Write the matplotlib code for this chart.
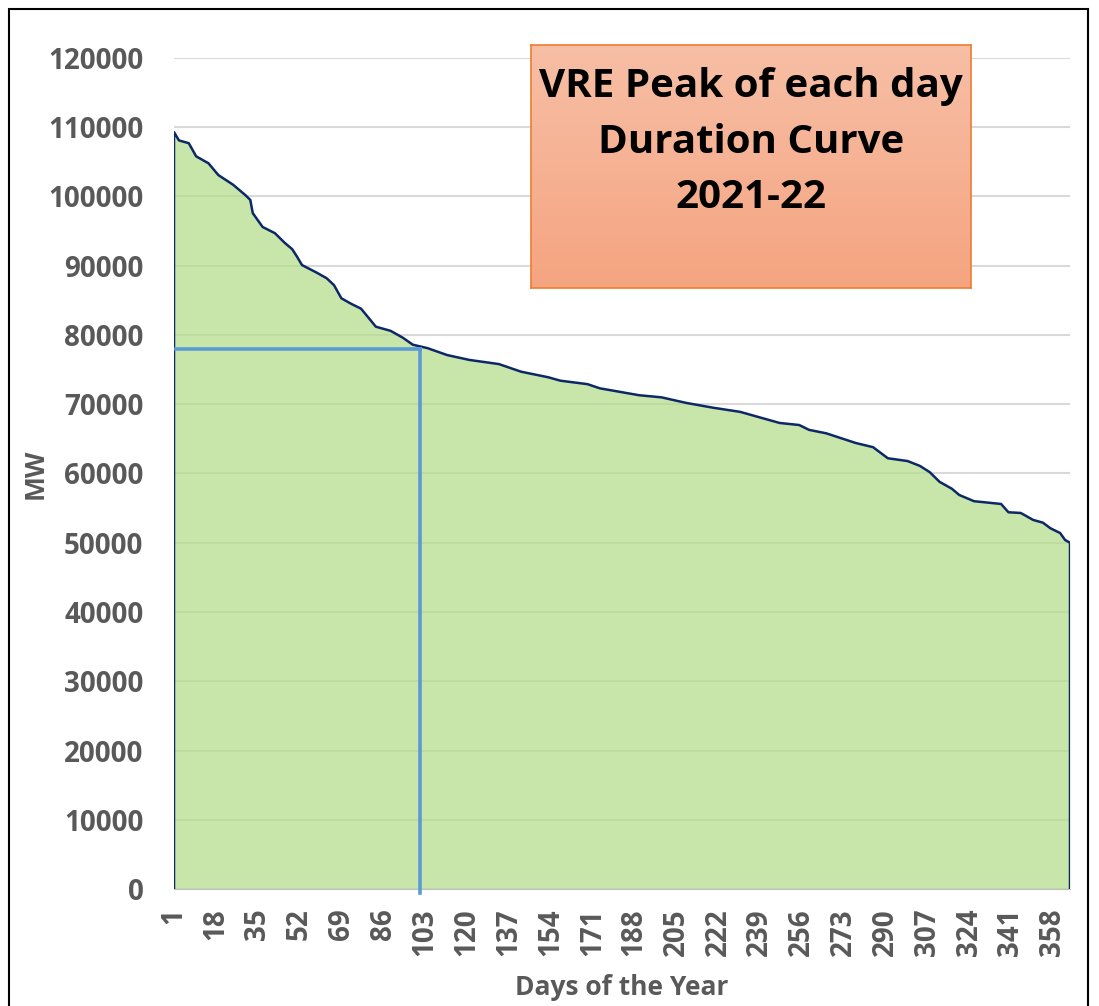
import numpy as np
import matplotlib.pyplot as plt
from matplotlib.patches import Rectangle

# VRE daily peak, sorted descending
days = [1, 3, 7, 10, 15, 19, 25, 30, 32, 33, 37, 42, 46, 49, 51, 53, 59, 63,
        66, 69, 73, 77, 83, 89, 94, 98, 104, 112, 121, 133, 142, 153, 158, 169,
        174, 182, 190, 199, 209, 220, 231, 240, 247, 255, 259, 266, 272, 278,
        285, 288, 291, 299, 304, 308, 312, 317, 320, 326, 337, 340, 345, 350,
        354, 357, 361, 363, 365]
peak_mw = [109300, 108100, 107700, 105800, 104800, 103100, 101700, 100200,
           99500, 97600, 95600, 94700, 93300, 92400, 91300, 90100, 89000,
           88200, 87200, 85300, 84500, 83800, 81200, 80600, 79600, 78600,
           78100, 77100, 76400, 75800, 74700, 73900, 73400, 72900, 72300,
           71800, 71300, 71000, 70200, 69500, 68900, 68000, 67300, 67000,
           66300, 65800, 65100, 64400, 63800, 63000, 62200, 61800, 61100,
           60200, 58800, 57800, 56900, 56000, 55600, 54400, 54300, 53300,
           52900, 52100, 51400, 50400, 50000]

tick_days = list(range(1, 366, 17))
y_ticks = list(range(0, 120001, 10000))

# marker lines
mark_day = 101
mark_mw = 78000

title_lines = "VRE Peak of each day\nDuration Curve\n2021-22"

font = "Open Sans"
gray = "#595959"

fig = plt.figure(figsize=(10.99, 10.06), dpi=100)
ax = fig.add_axes([174 / 1099, 1 - 889 / 1006, (1070 - 174) / 1099, (889 - 58) / 1006])

ax.fill_between(days, peak_mw, 0, color="#b7de8e", alpha=0.75, lw=0, zorder=2)
ax.plot([days[0]] + days + [days[-1]], [0] + peak_mw + [0], color="#0d2866", lw=1.8, zorder=3)

ax.plot([2, mark_day], [mark_mw, mark_mw], color="#5b9bd5", lw=2.6, zorder=4)
ax.plot([mark_day, mark_day], [-600, mark_mw], color="#5b9bd5", lw=2.6, zorder=4, clip_on=False)

ax.set_xlim(1, 365)
ax.set_ylim(0, 120000)
ax.set_yticks(y_ticks)
ax.set_yticklabels([str(v) for v in y_ticks])
ax.set_xticks(tick_days)
ax.set_xticklabels([str(d) for d in tick_days], rotation=90)
ax.grid(axis="y", color="#d9d9d9", lw=1.5, zorder=1)
ax.set_axisbelow(True)
ax.tick_params(length=0, labelsize=20, labelcolor=gray)
ax.tick_params(axis="y", pad=22)
ax.tick_params(axis="x", pad=14)
for lab in ax.get_xticklabels() + ax.get_yticklabels():
    lab.set_fontweight("bold")
    lab.set_family(font)
for s in ["top", "right", "left"]:
    ax.spines[s].set_visible(False)
ax.spines["bottom"].set_color("#bfbfbf")

ax.set_xlabel("Days of the Year", fontsize=19, fontweight="bold", color=gray, family=font, labelpad=13)
ax.set_ylabel("MW", fontsize=19, fontweight="bold", color=gray, family=font, labelpad=0)

# title box with gradient
tax = fig.add_axes([531 / 1099, 1 - 288 / 1006, (971 - 531) / 1099, (288 - 45) / 1006])
grad = np.linspace(0, 1, 256)[:, None, None]
top = np.array([247, 191, 166]) / 255
bot = np.array([245, 164, 128]) / 255
tax.imshow(top + (bot - top) * grad, aspect="auto", extent=[0, 1, 0, 1])
tax.set_xticks([])
tax.set_yticks([])
for s in tax.spines.values():
    s.set_color("#ed7d31")
    s.set_linewidth(1.2)
tax.text(0.5, 0.6, title_lines, ha="center", va="center", fontsize=29,
         fontweight="bold", family=font, linespacing=1.55, transform=tax.transAxes)

# outer frame
fig.patches.append(Rectangle((9 / 1099, -0.05), (1088 - 9) / 1099, 1.05 - 9 / 1006,
                             transform=fig.transFigure, fill=False, ec="black", lw=1.5))

fig.savefig("out.png", dpi=100)
